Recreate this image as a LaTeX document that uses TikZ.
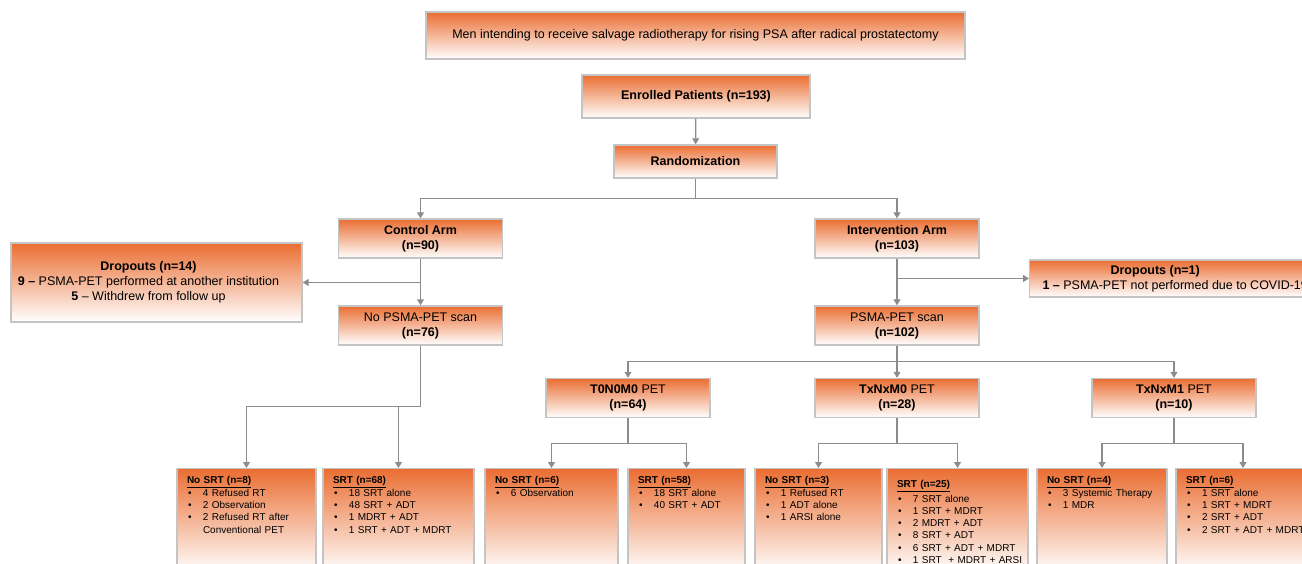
\documentclass[tikz,border=0pt]{standalone}
\usepackage{fontspec}
\setmainfont{Liberation Sans}
\usepackage{tikz}
\usetikzlibrary{arrows.meta,positioning,calc}
\definecolor{flowora}{RGB}{234,110,50}
\definecolor{flowedge}{RGB}{196,196,196}
\definecolor{flowline}{RGB}{140,140,140}
\newcommand{\srtlist}[2]{\begin{tabular}[t]{@{\hspace{1pt}}p{15pt}@{}l@{}}
    \multicolumn{2}{@{}l@{}}{\underline{\textbf{#1}}}\\#2\end{tabular}}

\begin{document}
\begin{tikzpicture}[
    x=1pt, y=-1pt,
    box/.style={rectangle, draw=flowedge, line width=1.4pt,
        top color=flowora, bottom color=white, inner sep=0pt,
        align=center, font=\fontsize{12.5}{15}\selectfont},
    midbox/.style={box, minimum width=164pt, minimum height=39pt},
    outbox/.style={box, anchor=north, inner xsep=10pt, inner ysep=0pt,
        text width=#1, align=left, text height=15pt, text depth=89pt,
        font=\fontsize{10}{12.3}\selectfont},
    link/.style={draw=flowline, line width=1.2pt},
    >={Triangle[width=7pt,length=6pt]}
]
\useasboundingbox (0,0) rectangle (1302,564);
\clip (0,0) rectangle (1302,564);

% top of the flow
\node[box, minimum width=539pt, minimum height=47pt] (men) at (695.5,35.5)
    {Men intending to receive salvage radiotherapy for rising PSA after radical prostatectomy};
\node[box, minimum width=228pt, minimum height=43pt, font=\fontsize{12.5}{15}\selectfont\bfseries]
    (enrolled) at (696,96.5) {Enrolled Patients (n=193)};
\node[box, minimum width=163pt, minimum height=33pt, font=\fontsize{12.5}{15}\selectfont\bfseries]
    (random) at (695.5,161.5) {Randomization};

% arms
\node[midbox, font=\fontsize{12.5}{15}\selectfont\bfseries] (control) at (420.5,238.5) {Control Arm\\(n=90)};
\node[midbox, font=\fontsize{12.5}{15}\selectfont\bfseries] (interv) at (897,238.5) {Intervention Arm\\(n=103)};
\node[box, minimum width=291pt, minimum height=79pt] (dropL) at (156.5,282.5)
    {\textbf{Dropouts (n=14)}\rule{16pt}{0pt}\\\textbf{9 --} PSMA-PET performed at another institution\rule{16pt}{0pt}\\\textbf{5} -- Withdrew from follow up\rule{16pt}{0pt}};
\node[box, anchor=west, minimum width=291pt, minimum height=37pt] (dropR) at (1029,278.5)
    {\textbf{Dropouts (n=1)}\rule{40pt}{0pt}\\\textbf{1 --} PSMA-PET not performed due to COVID-19};
\node[midbox] (nopet) at (420.5,325.5) {No PSMA-PET scan\\\textbf{(n=76)}};
\node[midbox] (pet) at (897,325.5) {PSMA-PET scan\\\textbf{(n=102)}};

% PET findings
\node[midbox] (t0) at (628,398) {\textbf{T0N0M0} PET\\\textbf{(n=64)}};
\node[midbox] (tm0) at (897,398) {\textbf{TxNxM0} PET\\\textbf{(n=28)}};
\node[midbox] (tm1) at (1174,398) {\textbf{TxNxM1} PET\\\textbf{(n=10)}};

% treatment received
\node[outbox=119pt] (b1) at (246.5,468) {\srtlist{No SRT (n=8)}{%
    \textbullet & 4 Refused RT\\ \textbullet & 2 Observation\\
    \textbullet & 2 Refused RT after\\ & Conventional PET}};
\node[outbox=131pt] (b2) at (398.5,468) {\srtlist{SRT (n=68)}{%
    \textbullet & 18 SRT alone\\ \textbullet & 48 SRT + ADT\\
    \textbullet & 1 MDRT + ADT\\ \textbullet & 1 SRT + ADT + MDRT}};
\node[outbox=113pt] (b3) at (551.5,468) {\srtlist{No SRT (n=6)}{%
    \textbullet & 6 Observation}};
\node[outbox=97pt] (b4) at (686.5,468) {\srtlist{SRT (n=58)}{%
    \textbullet & 18 SRT alone\\ \textbullet & 40 SRT + ADT}};
\node[outbox=107pt] (b5) at (818.5,468) {\srtlist{No SRT (n=3)}{%
    \textbullet & 1 Refused RT\\ \textbullet & 1 ADT alone\\
    \textbullet & 1 ARSI alone}};
\node[outbox=121pt, text height=19pt, text depth=85pt] (b6) at (957.5,468) {\srtlist{SRT (n=25)}{[2pt]
    \textbullet & 7 SRT alone\\ \textbullet & 1 SRT + MDRT\\
    \textbullet & 2 MDRT + ADT\\ \textbullet & 8 SRT + ADT\\
    \textbullet & 6 SRT + ADT + MDRT\\ \textbullet & 1 SRT\ \ + MDRT + ARSI}};
\node[outbox=110pt] (b7) at (1102,468) {\srtlist{No SRT (n=4)}{%
    \textbullet & 3 Systemic Therapy\\ \textbullet & 1 MDR}};
\node[outbox=114pt] (b8) at (1243,468) {\srtlist{SRT (n=6)}{%
    \textbullet & 1 SRT alone\\ \textbullet & 1 SRT + MDRT\\
    \textbullet & 2 SRT + ADT\\ \textbullet & 2 SRT + ADT + MDRT}};

% connectors
\draw[link,->] (enrolled) -- (random);
\draw[link] (random.south) -- ++(0,20) coordinate (rsplit);
\draw[link,->] (rsplit) -| (control.north);
\draw[link,->] (rsplit) -| (interv.north);
\draw[link,->] (control) -- (nopet);
\draw[link,->] (control.south |- dropL.east) -- (dropL.east);
\draw[link,->] (interv) -- (pet);
\draw[link,->] (interv.south |- dropR.west) -- (dropR.west);
\draw[link] (nopet.south) -- ++(0,61) coordinate (nsplit);
\draw[link,->] (nsplit) -| (b1.north);
\draw[link,->] (nsplit) -| (b2.north);
\draw[link] (pet.south) -- ++(0,16) coordinate (psplit);
\draw[link,->] (psplit) -| (t0.north);
\draw[link,->] (psplit) -- (tm0.north);
\draw[link,->] (psplit) -| (tm1.north);
\foreach \p/\l/\r in {t0/b3/b4, tm0/b5/b6, tm1/b7/b8} {
    \draw[link] (\p.south) -- ++(0,25) coordinate (\p split);
    \draw[link,->] (\p split) -| (\l.north);
    \draw[link,->] (\p split) -| (\r.north);
}
\end{tikzpicture}
\end{document}
